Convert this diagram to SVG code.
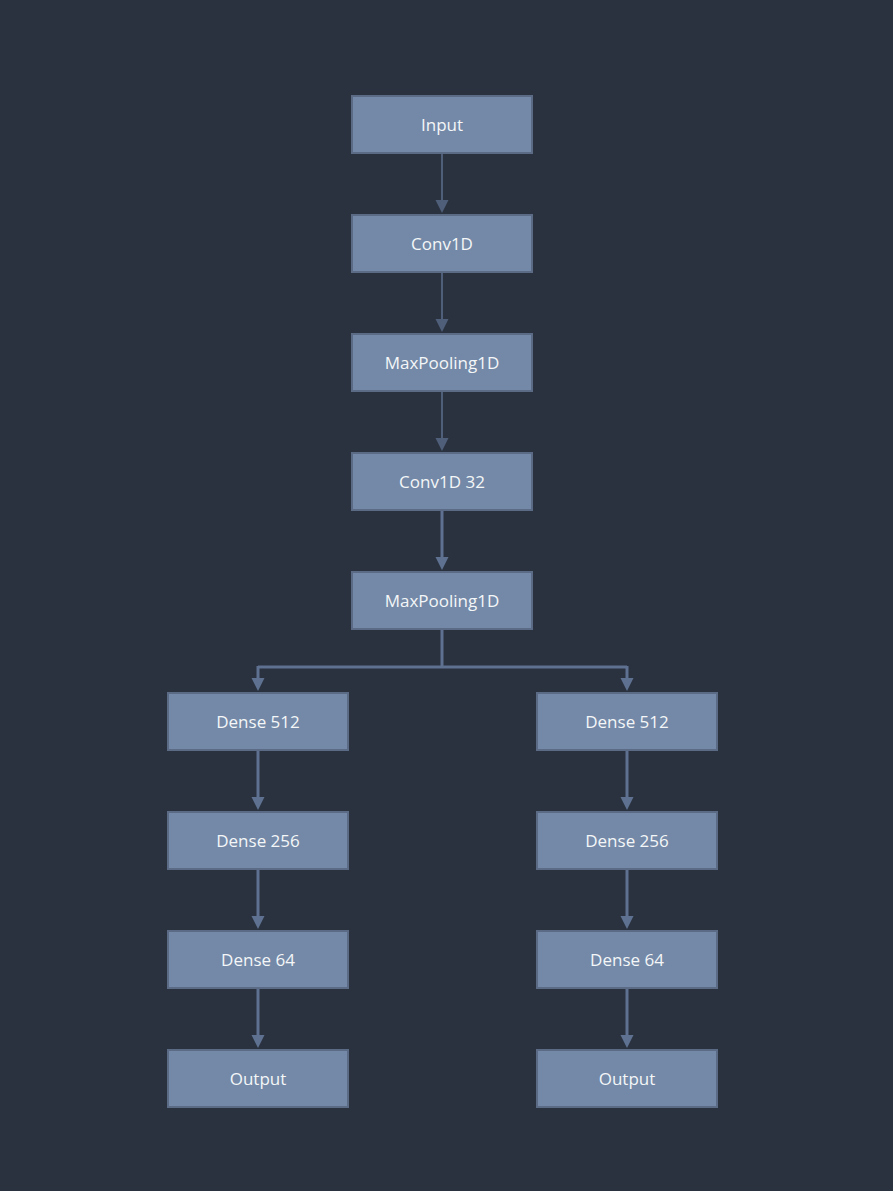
<svg xmlns="http://www.w3.org/2000/svg" width="893" height="1191" viewBox="0 0 893 1191">
<style>
.node rect{fill:#7389a7;stroke:#5b6b85;stroke-width:2}
.node text{font-family:"Open Sans","Noto Sans",sans-serif;font-size:17px;fill:#f4f6f8;text-anchor:middle;dominant-baseline:central}
.e1{stroke:#4f5f7a;stroke-width:2;fill:none}
.e2{stroke:#5e7190;stroke-width:3;fill:none}
</style>
<rect width="893" height="1191" fill="#2a313f"/>
<g id="edges">
<path class="e1" d="M442,154 V201"/><polygon points="435.5,200 448.5,200 442,213" fill="#4f5f7a"/>
<path class="e1" d="M442,273 V320"/><polygon points="435.5,319 448.5,319 442,332" fill="#4f5f7a"/>
<path class="e1" d="M442,391 V439"/><polygon points="435.5,438 448.5,438 442,451" fill="#4f5f7a"/>
<path class="e2" d="M442,510 V558"/><polygon points="435.5,557 448.5,557 442,570" fill="#5e7190"/>
<path class="e2" d="M442,629 V667 M258,667 H627 M258,666 V679 M627,666 V679"/>
<polygon points="251.5,678 264.5,678 258,691" fill="#5e7190"/>
<polygon points="620.5,678 633.5,678 627,691" fill="#5e7190"/>
<path class="e2" d="M258,751 V798"/><polygon points="251.5,797 264.5,797 258,810" fill="#5e7190"/>
<path class="e2" d="M258,870 V917"/><polygon points="251.5,916 264.5,916 258,929" fill="#5e7190"/>
<path class="e2" d="M258,989 V1036"/><polygon points="251.5,1035 264.5,1035 258,1048" fill="#5e7190"/>
<path class="e2" d="M627,751 V798"/><polygon points="620.5,797 633.5,797 627,810" fill="#5e7190"/>
<path class="e2" d="M627,870 V917"/><polygon points="620.5,916 633.5,916 627,929" fill="#5e7190"/>
<path class="e2" d="M627,989 V1036"/><polygon points="620.5,1035 633.5,1035 627,1048" fill="#5e7190"/>
</g>
<g id="input" class="node"><rect x="352" y="96" width="180" height="57"/><text x="442" y="124.5">Input</text></g>
<g id="conv1d" class="node"><rect x="352" y="215" width="180" height="57"/><text x="442" y="243.5">Conv1D</text></g>
<g id="maxpool1" class="node"><rect x="352" y="334" width="180" height="57"/><text x="442" y="362.5">MaxPooling1D</text></g>
<g id="conv1d32" class="node"><rect x="352" y="453" width="180" height="57"/><text x="442" y="481.5">Conv1D 32</text></g>
<g id="maxpool2" class="node"><rect x="352" y="572" width="180" height="57"/><text x="442" y="600.5">MaxPooling1D</text></g>
<g id="dense512a" class="node"><rect x="168" y="693" width="180" height="57"/><text x="258" y="721.5">Dense 512</text></g>
<g id="dense256a" class="node"><rect x="168" y="812" width="180" height="57"/><text x="258" y="840.5">Dense 256</text></g>
<g id="dense64a" class="node"><rect x="168" y="931" width="180" height="57"/><text x="258" y="959.5">Dense 64</text></g>
<g id="outputa" class="node"><rect x="168" y="1050" width="180" height="57"/><text x="258" y="1078.5">Output</text></g>
<g id="dense512b" class="node"><rect x="537" y="693" width="180" height="57"/><text x="627" y="721.5">Dense 512</text></g>
<g id="dense256b" class="node"><rect x="537" y="812" width="180" height="57"/><text x="627" y="840.5">Dense 256</text></g>
<g id="dense64b" class="node"><rect x="537" y="931" width="180" height="57"/><text x="627" y="959.5">Dense 64</text></g>
<g id="outputb" class="node"><rect x="537" y="1050" width="180" height="57"/><text x="627" y="1078.5">Output</text></g>
</svg>
